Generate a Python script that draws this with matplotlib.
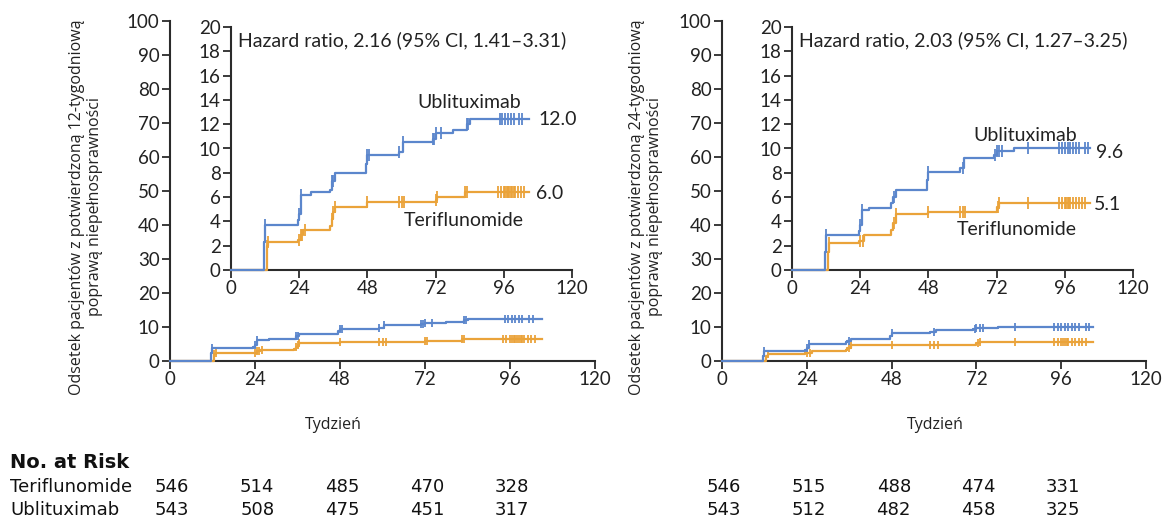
import numpy as np
import matplotlib
matplotlib.use("Agg")
import matplotlib.pyplot as plt
import matplotlib.transforms as mtransforms

# ---- data ----
weeks_ticks = [0, 24, 48, 72, 96, 120]

# 12-week confirmed disability progression
ubl12_t = [0, 11.5, 12, 23.5, 24, 24.5, 28, 35, 35.5, 36.5, 47.5, 48, 59, 60.5, 71, 72, 78, 83, 84, 105]
ubl12_v = [0, 2.3, 3.7, 4.1, 4.6, 6.2, 6.4, 6.6, 7.3, 8.0, 8.7, 9.5, 9.7, 10.5, 10.8, 11.3, 11.5, 12.0, 12.4, 12.4]
ter12_t = [0, 12.5, 13, 23.5, 24.5, 25.5, 35, 35.5, 36, 36.5, 48, 72, 72.5, 82.5, 105]
ter12_v = [0, 2.0, 2.3, 2.5, 2.9, 3.3, 3.6, 4.2, 4.8, 5.2, 5.6, 5.8, 6.0, 6.4, 6.4]
ubl12_cens = [12, 24, 24.5, 35.5, 36, 48, 48.5, 59, 60.5, 71, 71.5, 72, 74, 83, 83.5,
              94.5, 95.5, 96.5, 97.5, 98.5, 99.5, 101.5, 102.5]
ter12_cens = [12.5, 13, 24, 24.5, 25, 26, 35.5, 36, 36.5, 48, 59, 60, 61, 72, 72.5, 82.5, 83,
              94, 95, 96, 96.5, 97, 97.5, 98, 98.5, 99, 99.5, 100, 101, 102, 103]

# 24-week confirmed disability progression
ubl24_t = [0, 11.5, 12, 23.5, 24, 24.5, 27, 35, 35.5, 36.5, 47.5, 48, 59, 60.5, 71, 72, 78, 105]
ubl24_v = [0, 1.5, 2.9, 3.2, 3.7, 4.9, 5.1, 5.5, 6.0, 6.6, 7.4, 8.1, 8.4, 9.2, 9.5, 9.8, 10.0, 10.0]
ter24_t = [0, 12.5, 13, 23.5, 25.5, 35, 35.5, 36.5, 48, 72, 73, 105]
ter24_v = [0, 1.5, 2.2, 2.4, 2.9, 3.3, 3.9, 4.6, 4.8, 5.2, 5.5, 5.5]
ubl24_cens = [12, 24, 24.5, 36, 48, 60, 71.5, 72, 73, 74, 83, 94, 95, 96, 97, 98, 99, 100, 101, 103, 104]
ter24_cens = [13, 24, 25, 36, 36.5, 48, 59, 60, 61, 72.5, 73, 83, 94, 95, 96, 96.5, 97, 97.5,
              98, 99, 100, 101, 102, 103]

hr_texts = ["Hazard ratio, 2.16 (95% CI, 1.41\u20133.31)", "Hazard ratio, 2.03 (95% CI, 1.27\u20133.25)"]
final_ubl = ["12.0", "9.6"]
final_ter = ["6.0", "5.1"]
ylabels = ["Odsetek pacjentów z potwierdzoną 12-tygodniową\npoprawą niepełnosprawności",
           "Odsetek pacjentów z potwierdzoną 24-tygodniową\npoprawą niepełnosprawności"]

risk_ter = [[546, 514, 485, 470, 328], [546, 515, 488, 474, 331]]
risk_ubl = [[543, 508, 475, 451, 317], [543, 512, 482, 458, 325]]

BLUE = "#5b86cc"
ORANGE = "#eaa33a"
AX = "#2b2b2b"
TICKFONT = "Lato"
LABFONT = "Open Sans"
TABFONT = ["Liberation Sans Narrow", "DejaVu Sans"]

W, H = 1167, 520
fig = plt.figure(figsize=(W / 100, H / 100), dpi=100)


def px(l, r, t, b):
    return [l / W, 1 - b / H, (r - l) / W, (b - t) / H]


def step_at(t, v, x):
    idx = np.searchsorted(t, x, side="right") - 1
    return np.asarray(v)[idx]


def style(ax, yt):
    for s in ["top", "right"]:
        ax.spines[s].set_visible(False)
    for s in ["left", "bottom"]:
        ax.spines[s].set_color(AX)
        ax.spines[s].set_linewidth(1.5)
    ax.set_xticks(weeks_ticks)
    ax.set_yticks(yt)
    ax.tick_params(direction="out", length=6, width=1.3, color=AX, labelsize=13.5,
                   labelcolor="#222222", pad=1.5)
    for lab in ax.get_xticklabels() + ax.get_yticklabels():
        lab.set_fontfamily(TICKFONT)


panels = [
    dict(main=(170, 595, 21, 361), inset=(231, 572, 27, 270),
         ub=(ubl12_t, ubl12_v, ubl12_cens), te=(ter12_t, ter12_v, ter12_cens),
         ub_lab=(84, 13.8), te_lab=(82, 4.1), ub_fin=(108.3, 12.35), te_fin=(107.4, 6.3),
         ylab_x=86, tyd_x=333),
    dict(main=(722, 1146, 21, 361), inset=(792, 1133, 27, 270),
         ub=(ubl24_t, ubl24_v, ubl24_cens), te=(ter24_t, ter24_v, ter24_cens),
         ub_lab=(82, 11.1), te_lab=(79, 3.3), ub_fin=(107.0, 9.7), te_fin=(106.4, 5.35),
         ylab_x=646, tyd_x=935),
]

for i, p in enumerate(panels):
    ax = fig.add_axes(px(*p["main"]))
    ins = fig.add_axes(px(*p["inset"]))
    ins.set_facecolor("none")
    for a, ylim, yt, ms in [(ax, 100, range(0, 101, 10), 6), (ins, 20, range(0, 21, 2), 8)]:
        for (t, v, c), col in [(p["te"], ORANGE), (p["ub"], BLUE)]:
            a.step(t, v, where="post", color=col, lw=1.6, zorder=3, clip_on=False)
            a.plot(c, step_at(t, v, c), ls="none", marker="|", ms=ms, mew=1.3, color=col,
                   zorder=3, clip_on=False)
        a.set_xlim(0, 120)
        a.set_ylim(0, ylim)
        style(a, yt)

    tk = dict(fontsize=14, family=TICKFONT, color="#222222", va="center")
    ins.text(2.5, 18.9, hr_texts[i], **tk)
    ins.text(*p["ub_lab"], "Ublituximab", ha="center", **tk)
    ins.text(*p["te_lab"], "Teriflunomide", ha="center", **tk)
    ins.text(*p["ub_fin"], final_ubl[i], **tk)
    ins.text(*p["te_fin"], final_ter[i], **tk)

    fig.text(p["ylab_x"] / W, 1 - 207 / H, ylabels[i], rotation=90, ha="center", va="center",
             fontsize=11.5, family=LABFONT, color="#222222", linespacing=1.2)
    fig.text(p["tyd_x"] / W, 1 - 425 / H, "Tydzień", ha="center", va="center",
             fontsize=11.5, family=LABFONT, color="#222222")

    # number at risk, aligned with the main x axis
    tr = mtransforms.blended_transform_factory(ax.transData, fig.transFigure)
    for j in range(5):
        fig.text(weeks_ticks[j] + 0.6, 1 - 487 / H, str(risk_ter[i][j]), transform=tr,
                 ha="center", va="center", fontsize=13, family=TABFONT, color="#111111")
        fig.text(weeks_ticks[j] + 0.6, 1 - 510 / H, str(risk_ubl[i][j]), transform=tr,
                 ha="center", va="center", fontsize=13, family=TABFONT, color="#111111")

fig.text(10 / W, 1 - 462 / H, "No. at Risk", fontsize=14, fontweight="bold", family=TABFONT,
         ha="left", va="center", color="#111111")
fig.text(10 / W, 1 - 487 / H, "Teriflunomide", fontsize=13, family=TABFONT, ha="left",
         va="center", color="#111111")
fig.text(10 / W, 1 - 510 / H, "Ublituximab", fontsize=13, family=TABFONT, ha="left",
         va="center", color="#111111")

fig.savefig("out.png", dpi=100, facecolor="white")
